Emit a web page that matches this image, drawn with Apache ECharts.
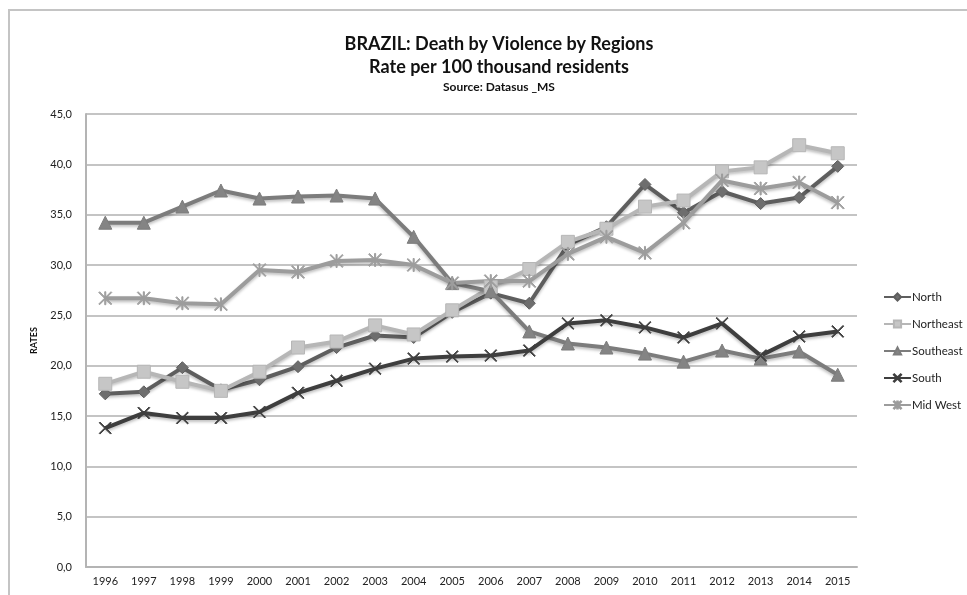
<!DOCTYPE html>
<html>
<head>
<meta charset="utf-8">
<script src="https://cdn.jsdelivr.net/npm/echarts@6/dist/echarts.min.js"></script>
<style>
  html, body { margin: 0; padding: 0; background: #fff; }
  #chart { width: 967px; height: 595px; }
</style>
</head>
<body>
<div id="chart"></div>
<script>
// values
var years = ['1996', '1997', '1998', '1999', '2000', '2001', '2002', '2003', '2004', '2005',
  '2006', '2007', '2008', '2009', '2010', '2011', '2012', '2013', '2014', '2015']
var north = [17.2, 17.4, 19.8, 17.6, 18.6, 19.9, 21.8, 23.0, 22.8, 25.3, 27.2, 26.2, 32.0, 33.8, 38.0, 35.2, 37.3, 36.1, 36.7, 39.8]
var northeast = [18.2, 19.4, 18.4, 17.5, 19.4, 21.8, 22.4, 24.0, 23.1, 25.5, 27.8, 29.6, 32.3, 33.6, 35.8, 36.4, 39.3, 39.7, 41.9, 41.1]
var southeast = [34.2, 34.2, 35.8, 37.4, 36.6, 36.8, 36.9, 36.6, 32.8, 28.2, 27.4, 23.4, 22.2, 21.8, 21.2, 20.4, 21.5, 20.7, 21.4, 19.1]
var south = [13.8, 15.3, 14.8, 14.8, 15.4, 17.3, 18.5, 19.7, 20.7, 20.9, 21.0, 21.5, 24.2, 24.5, 23.8, 22.8, 24.2, 21.0, 22.9, 23.4]
var midWest = [26.7, 26.7, 26.2, 26.1, 29.5, 29.3, 30.4, 30.5, 30.0, 28.2, 28.4, 28.4, 31.1, 32.8, 31.2, 34.2, 38.4, 37.6, 38.2, 36.2]

var FONT = 'Lato, "Open Sans", sans-serif'
// thin x and asterisk markers as filled outlines
var crossPath = 'path://M0,0.6L0.6,0L5,4.4L9.4,0L10,0.6L5.6,5L10,9.4L9.4,10L5,5.6L0.6,10L0,9.4L4.4,5Z'
var starPath = 'path://M0,0.6L0.6,0L5,4.4L9.4,0L10,0.6L5.6,5L10,9.4L9.4,10L5,5.6L0.6,10L0,9.4L4.4,5ZM4.6,0L5.4,0L5.4,10L4.6,10Z'

function makeSeries(name, data, color, symbol, size, markColor) {
  return {
    name: name,
    type: 'line',
    data: data,
    symbol: symbol,
    symbolSize: size,
    lineStyle: {
      color: color,
      width: 4,
      shadowColor: 'rgba(0,0,0,0.25)',
      shadowBlur: 3,
      shadowOffsetY: 2
    },
    itemStyle: {
      color: markColor || color,
      borderColor: color,
      borderWidth: 1
    },
    emphasis: { disabled: true }
  }
}

var chart = echarts.init(document.getElementById('chart'))
chart.setOption({
  animation: false,
  textStyle: { fontFamily: FONT },
  graphic: [{
    type: 'rect',
    shape: { x: 9, y: 10, width: 1000, height: 1000 },
    style: { fill: 'none', stroke: '#c4c4c4', lineWidth: 2 },
    silent: true
  }],
  title: {
    text: 'BRAZIL: Death by Violence by Regions\nRate per 100 thousand residents',
    subtext: 'Source: Datasus _MS',
    left: 494,
    textAlign: 'center',
    top: 28,
    itemGap: 2,
    textStyle: { fontFamily: FONT, fontSize: 18, fontWeight: 'bold', color: '#111', lineHeight: 23 },
    subtextStyle: { fontFamily: FONT, fontSize: 12, fontWeight: 'bold', color: '#111' }
  },
  legend: {
    orient: 'vertical',
    left: 878,
    top: 286,
    itemWidth: 27,
    itemHeight: 9,
    itemGap: 15,
    textStyle: { fontFamily: FONT, fontSize: 11.5, color: '#222', padding: [0, 0, 0, -4] },
    data: ['North', 'Northeast', 'Southeast', 'South', 'Mid West']
  },
  grid: { left: 86, right: 110, top: 114, bottom: 28 },
  xAxis: {
    type: 'category',
    data: years,
    boundaryGap: true,
    axisLine: { lineStyle: { color: '#b4b4b4', width: 2 } },
    axisTick: { show: false },
    axisLabel: { color: '#222', fontSize: 11, margin: 9, interval: 0 }
  },
  yAxis: {
    type: 'value',
    min: 0,
    max: 45,
    interval: 5,
    name: 'RATES',
    nameLocation: 'middle',
    nameRotate: 90,
    nameGap: 47,
    nameTextStyle: { fontSize: 9, fontWeight: 'bold', color: '#111' },
    axisLine: { show: true, lineStyle: { color: '#b4b4b4', width: 2 } },
    axisTick: { show: false },
    splitLine: { lineStyle: { color: '#c4c4c4', width: 2 } },
    axisLabel: {
      color: '#222',
      fontSize: 11,
      margin: 14,
      formatter: function (v) { return v.toFixed(1).replace('.', ',') }
    }
  },
  series: [
    makeSeries('North', north, '#5e5e5e', 'diamond', 12, '#6e6e6e'),
    makeSeries('Northeast', northeast, '#b6b6b6', 'rect', 13, '#c6c6c6'),
    makeSeries('Southeast', southeast, '#7c7c7c', 'triangle', 13, '#848484'),
    makeSeries('South', south, '#3e3e3e', crossPath, 12, '#3e3e3e'),
    makeSeries('Mid West', midWest, '#9c9c9c', starPath, 13, '#a4a4a4')
  ]
})
</script>
</body>
</html>
